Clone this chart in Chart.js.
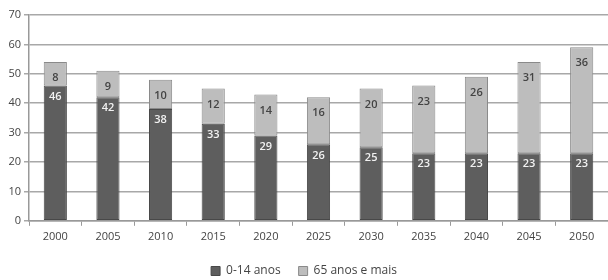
<!DOCTYPE html>
<html>
<head>
<meta charset="utf-8">
<script src="https://cdn.jsdelivr.net/npm/chart.js@4"></script>
<style>
    html, body { margin: 0; padding: 0; background: #fff; }
    #wrap { width: 608px; height: 280px; position: relative; }
</style>
</head>
<body>
<div id="wrap"><canvas id="popChart"></canvas></div>
<script>
// Data
const years = ['2000', '2005', '2010', '2015', '2020', '2025', '2030', '2035', '2040', '2045', '2050'];
const young = [46, 42, 38, 33, 29, 26, 25, 23, 23, 23, 23];
const old = [8, 9, 10, 12, 14, 16, 20, 23, 26, 31, 36];
const yTicks = [0, 10, 20, 30, 40, 50, 60, 70];

Chart.defaults.font.family = '"Open Sans", "DejaVu Sans", sans-serif';
Chart.defaults.font.size = 11;
Chart.defaults.color = '#444';

// Value labels near the top of each segment
const segLabels = {
    id: 'segLabels',
    afterDatasetsDraw(chart) {
        const ctx = chart.ctx;
        ctx.save();
        ctx.font = '600 11px "Open Sans", "DejaVu Sans", sans-serif';
        ctx.textAlign = 'center';
        ctx.textBaseline = 'middle';
        chart.data.datasets.forEach((ds, i) => {
            const meta = chart.getDatasetMeta(i);
            meta.data.forEach((bar, j) => {
                ctx.fillStyle = i === 0 ? '#f2f2f2' : '#444';
                ctx.fillText(ds.data[j], bar.x, bar.y + (i === 0 ? 11 : 16));
            });
        });
        ctx.restore();
    }
};

new Chart(document.getElementById('popChart'), {
    type: 'bar',
    data: {
        labels: years,
        datasets: [{
            label: '0-14 anos',
            data: young,
            backgroundColor: '#5e5e5e',
            borderColor: '#484848',
            borderWidth: 1,
            borderSkipped: false,
            barPercentage: 0.88,
            categoryPercentage: 0.5
        }, {
            label: '65 anos e mais',
            data: old,
            backgroundColor: '#bdbdbd',
            borderColor: '#8a8a8a',
            borderWidth: 1,
            borderSkipped: false,
            barPercentage: 0.88,
            categoryPercentage: 0.5
        }]
    },
    options: {
        responsive: true,
        maintainAspectRatio: false,
        animation: false,
        layout: { padding: { top: 15, right: 0, left: 0, bottom: -7 } },
        plugins: {
            tooltip: { enabled: false },
            legend: {
                position: 'bottom',
                labels: {
                    boxWidth: 9,
                    boxHeight: 9,
                    padding: 18,
                    color: '#444',
                    font: { size: 12 }
                }
            }
        },
        scales: {
            x: {
                stacked: true,
                grid: {
                    display: true,
                    drawOnChartArea: false,
                    offset: true,
                    tickLength: 5,
                    color: '#999'
                },
                border: { color: '#999', width: 1.5 },
                ticks: { color: '#444', padding: 4 }
            },
            y: {
                stacked: true,
                min: 0,
                max: 70,
                afterBuildTicks(axis) {
                    axis.ticks = yTicks.map(v => ({ value: v }));
                },
                afterFit(axis) {
                    axis.width = 29;
                },
                grid: {
                    color: '#a8a8a8',
                    lineWidth: 1.5,
                    tickLength: 5
                },
                border: { color: '#999', width: 1.5 },
                ticks: { color: '#444', padding: 3 }
            }
        }
    },
    plugins: [segLabels]
});
</script>
</body>
</html>
